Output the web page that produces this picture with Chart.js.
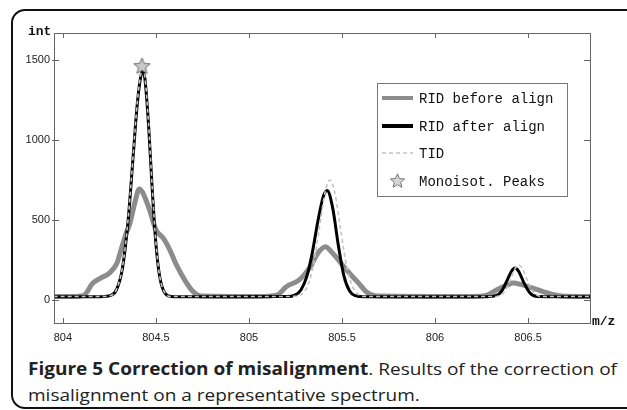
<!DOCTYPE html>
<html>
<head>
<meta charset="utf-8">
<script src="https://cdn.jsdelivr.net/npm/chart.js@4.4.0/dist/chart.umd.min.js"></script>
<style>
html,body{margin:0;padding:0;background:#fff;overflow:hidden;width:627px;height:410px;}
#frame{position:absolute;left:11px;top:9px;width:700px;height:396px;border:2px solid #111;border-radius:14px;}
#wrap{position:absolute;left:0;top:0;width:627px;height:350px;}
.axlab{position:absolute;font-family:"Liberation Mono",monospace;font-weight:bold;font-size:13px;color:#111;}
#cap{position:absolute;left:28px;top:356px;width:589px;font-family:"Open Sans",sans-serif;font-size:17px;color:#222;line-height:26px;}
.line{white-space:nowrap;display:inline-block;transform-origin:0 0;}
</style>
</head>
<body>
<div id="frame"></div>
<div id="wrap"><canvas id="myChart" width="627" height="350"></canvas></div>
<div class="axlab" style="left:28px;top:24px;">int</div>
<div class="axlab" style="left:592px;top:314px;">m/z</div>
<div id="cap">
  <span class="line" id="l1"><b>Figure 5 Correction of misalignment</b>. Results of the correction of</span><br>
  <span class="line" id="l2">misalignment on a representative spectrum.</span>
</div>
<script>
const mzBefore = [803.95, 804.05, 804.11, 804.16, 804.20, 804.25, 804.29, 804.32, 804.34, 804.36, 804.39, 804.41, 804.46, 804.50, 804.54, 804.575, 804.61, 804.66, 804.70, 804.74, 805.05, 805.15, 805.20, 805.27, 805.33, 805.37, 805.41, 805.45, 805.51, 805.54, 805.59, 805.63, 805.69, 806.20, 806.28, 806.33, 806.39, 806.42, 806.47, 806.53, 806.58, 806.63, 806.68, 806.84];
const intBefore = [22, 22, 27, 104, 135, 168, 229, 344, 417, 479, 625, 694, 583, 438, 385, 312, 219, 115, 52, 25, 22, 30, 83, 125, 208, 292, 333, 292, 208, 167, 104, 52, 25, 22, 30, 62, 94, 106, 94, 73, 52, 35, 25, 22];

const mzAfter = [803.95, 804.20, 804.26, 804.29, 804.32, 804.35, 804.38, 804.40, 804.42, 804.43, 804.44, 804.46, 804.48, 804.50, 804.52, 804.55, 804.58, 804.62, 805.20, 805.25, 805.28, 805.31, 805.34, 805.37, 805.40, 805.42, 805.45, 805.48, 805.51, 805.54, 805.57, 805.62, 806.28, 806.33, 806.36, 806.39, 806.41, 806.43, 806.45, 806.48, 806.51, 806.55, 806.60, 806.84];
const intAfter = [20, 20, 30, 69, 198, 491, 938, 1230, 1406, 1430, 1389, 1099, 690, 348, 147, 39, 22, 20, 21, 32, 64, 144, 293, 490, 649, 685, 575, 344, 152, 57, 27, 20, 20, 28, 59, 129, 178, 200, 178, 102, 44, 21, 20, 20];

const mzTid = [803.95, 804.20, 804.26, 804.29, 804.32, 804.35, 804.38, 804.40, 804.42, 804.43, 804.44, 804.46, 804.48, 804.50, 804.52, 804.55, 804.58, 804.62, 805.20, 805.26, 805.29, 805.32, 805.35, 805.38, 805.41, 805.435, 805.46, 805.49, 805.52, 805.55, 805.58, 805.62, 806.28, 806.33, 806.37, 806.40, 806.43, 806.45, 806.47, 806.50, 806.53, 806.57, 806.62, 806.84];
const intTid = [22, 22, 30, 72, 205, 500, 945, 1240, 1420, 1445, 1400, 1110, 700, 355, 150, 40, 22, 22, 22, 25, 43, 102, 241, 463, 678, 750, 678, 463, 241, 102, 43, 22, 22, 22, 47, 111, 196, 219, 196, 111, 47, 22, 22, 22];

const mzPeaks = [804.425];
const intPeaks = [1465];

const xTicks = [804, 804.5, 805, 805.5, 806, 806.5];
const yTicks = [0, 500, 1000, 1500];
const seriesNames = ['RID before align', 'RID after align', 'TID', 'Monoisot. Peaks'];

function toPoints(xs, ys){
    return xs.map((x, i) => ({x: x, y: ys[i]}));
}

// estrella rellena para los picos
function starImage(size, fill, stroke){
    const cv = document.createElement('canvas');
    cv.width = size; cv.height = size;
    const c = cv.getContext('2d');
    const cx = size/2, cy = size/2 + 0.8, ro = size/2 - 1, ri = ro*0.45;
    c.beginPath();
    for (let i = 0; i < 10; i++) {
        const r = i % 2 ? ri : ro;
        const a = -Math.PI/2 + i*Math.PI/5;
        c.lineTo(cx + r*Math.cos(a), cy + r*Math.sin(a));
    }
    c.closePath();
    c.fillStyle = fill; c.fill();
    c.strokeStyle = stroke; c.lineWidth = 1; c.stroke();
    return cv;
}
const star = starImage(19, '#c9c9c9', '#666');
const starSmall = starImage(17, '#d4d4d4', '#777');

// caja, marcas hacia dentro y leyenda
const frameTicks = {
    id: 'frameTicks',
    afterDatasetsDraw(chart){
        const c = chart.ctx, a = chart.chartArea;
        const xs = chart.scales.x, ys = chart.scales.y;
        c.save();
        c.strokeStyle = '#666'; c.lineWidth = 1;
        c.strokeRect(Math.round(a.left)+0.5, Math.round(a.top)+0.5, Math.round(a.right-a.left), Math.round(a.bottom-a.top));
        c.beginPath();
        xTicks.forEach(v => {
            const px = Math.round(xs.getPixelForValue(v)) + 0.5;
            c.moveTo(px, a.bottom); c.lineTo(px, a.bottom - 5);
            c.moveTo(px, a.top); c.lineTo(px, a.top + 5);
        });
        yTicks.forEach(v => {
            const py = Math.round(ys.getPixelForValue(v)) + 0.5;
            c.moveTo(a.left - 2, py); c.lineTo(a.left + 5, py);
            c.moveTo(a.right, py); c.lineTo(a.right - 6, py);
        });
        c.stroke();

        // leyenda
        const bx = 377.5, by = 83.5, bw = 190, bh = 113;
        c.fillStyle = '#fff'; c.fillRect(bx, by, bw, bh);
        c.strokeStyle = '#777'; c.strokeRect(bx, by, bw, bh);
        const rows = [98, 126, 153, 181];
        const ds = chart.data.datasets;
        c.font = '14px "Liberation Mono", monospace';
        c.textBaseline = 'middle';
        rows.forEach((ry, i) => {
            const d = ds[i];
            if (i < 3) {
                c.beginPath();
                c.strokeStyle = d.borderColor;
                c.lineWidth = i === 2 ? 1.5 : 4;
                c.setLineDash(d.borderDash || []);
                c.moveTo(382, ry); c.lineTo(413, ry);
                c.stroke();
                c.setLineDash([]);
            } else {
                c.drawImage(starSmall, 389, ry - 9);
            }
            c.fillStyle = '#111';
            c.fillText(seriesNames[i], 419, ry + 1);
        });
        c.restore();
    }
};

const ctx = document.getElementById('myChart');
new Chart(ctx, {
    type: 'scatter',
    data: {
        datasets: [{
            label: seriesNames[0],
            data: toPoints(mzBefore, intBefore),
            showLine: true,
            borderColor: '#8c8c8c',
            borderWidth: 5,
            pointRadius: 0,
            cubicInterpolationMode: 'monotone',
            order: 3
        }, {
            label: seriesNames[1],
            data: toPoints(mzAfter, intAfter),
            showLine: true,
            borderColor: '#000',
            borderWidth: 3,
            pointRadius: 0,
            cubicInterpolationMode: 'monotone',
            order: 2
        }, {
            label: seriesNames[2],
            data: toPoints(mzTid, intTid),
            showLine: true,
            borderColor: '#c4c4c4',
            borderWidth: 1.6,
            borderDash: [4, 3],
            pointRadius: 0,
            cubicInterpolationMode: 'monotone',
            order: 1
        }, {
            label: seriesNames[3],
            data: toPoints(mzPeaks, intPeaks),
            showLine: false,
            pointStyle: star,
            pointRadius: 9,
            order: 0
        }]
    },
    options: {
        responsive: false,
        animation: false,
        layout: {padding: {left: 0, top: 33, right: 37, bottom: 0}},
        plugins: {legend: {display: false}, tooltip: {enabled: false}},
        scales: {
            x: {
                type: 'linear',
                min: 803.952,
                max: 806.833,
                grid: {display: false, drawTicks: false},
                border: {display: false},
                afterBuildTicks: s => { s.ticks = xTicks.map(v => ({value: v})); },
                afterFit: s => { s.height = 27; },
                ticks: {
                    callback: v => String(v),
                    font: {family: '"Liberation Sans", Arial, sans-serif', size: 11},
                    color: '#222',
                    padding: 8,
                    maxRotation: 0
                }
            },
            y: {
                min: -144,
                max: 1669,
                grid: {display: false, drawTicks: false},
                border: {display: false},
                afterBuildTicks: s => { s.ticks = yTicks.map(v => ({value: v})); },
                afterFit: s => { s.width = 54; },
                ticks: {
                    callback: v => String(v),
                    font: {family: '"Liberation Sans", Arial, sans-serif', size: 11},
                    color: '#222',
                    padding: 4
                }
            }
        }
    },
    plugins: [frameTicks]
});

// ajustar la leyenda de la figura al ancho del recuadro
const l1 = document.getElementById('l1');
const l2 = document.getElementById('l2');
const k = 589 / l1.getBoundingClientRect().width;
l1.style.transform = 'scaleX(' + k + ')';
l2.style.transform = 'scaleX(' + k + ')';
</script>
</body>
</html>
